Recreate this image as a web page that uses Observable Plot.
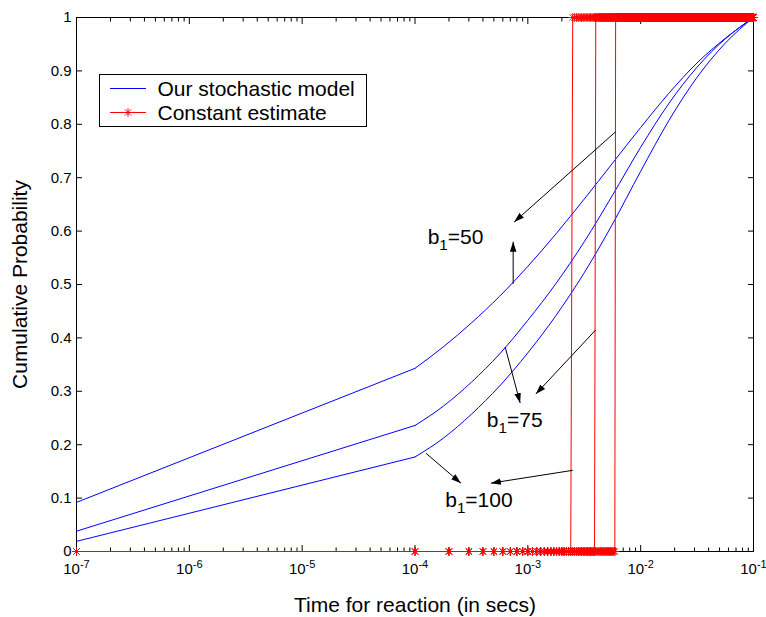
<!DOCTYPE html>
<html><head><meta charset="utf-8">
<script src="https://cdn.jsdelivr.net/npm/d3@7"></script>
<script src="https://cdn.jsdelivr.net/npm/@observablehq/plot@0.6"></script>
<style>
body{margin:0;background:#fff;}
#wrap{position:relative;width:766px;height:617px;font-family:"Liberation Sans",Arial,sans-serif;}
#legend{position:absolute;left:99px;top:74px;}
#wrap svg text.tick15{font-size:15px !important;font-family:"Liberation Sans",Arial,sans-serif !important;}
#wrap svg text.title21{font-size:21px !important;font-family:"Liberation Sans",Arial,sans-serif !important;}
#wrap svg text.tick15 tspan.sup{font-size:11px !important;}
</style></head><body><div id="wrap"></div>
<script>
// ---- data ----
const majorTicks = [1e-7, 1e-6, 1e-5, 1e-4, 1e-3, 1e-2, 1e-1];
const minorMultipliers = [2, 3, 4, 5, 6, 7, 8, 9];
const yTicks = [0, 0.1, 0.2, 0.3, 0.4, 0.5, 0.6, 0.7, 0.8, 0.9, 1];

// stochastic model (blue) curves
const curveTimes = [1e-7, 1e-4, 1.778e-4, 3.162e-4, 5.623e-4, 1e-3, 1.778e-3, 3.162e-3, 5.623e-3, 1e-2, 1.778e-2, 3.162e-2, 5.623e-2, 0.1];
const probB50  = [0.092, 0.343, 0.383, 0.428, 0.478, 0.534, 0.595, 0.660, 0.727, 0.794, 0.858, 0.915, 0.961, 1.0];
const probB75  = [0.038, 0.236, 0.272, 0.317, 0.370, 0.433, 0.502, 0.580, 0.667, 0.757, 0.839, 0.907, 0.960, 1.0];
const probB100 = [0.019, 0.177, 0.212, 0.257, 0.310, 0.372, 0.442, 0.522, 0.613, 0.712, 0.807, 0.888, 0.952, 1.0];

// constant estimate (red) step times, sampled on a 1e-4 s grid (first sample at 1e-7)
const stepTimes = [6e-3, 4e-3, 2.5e-3]; // b1 = 50, 75, 100
const sampleStep = 1e-4;
const sampleCount = 1000;
const firstSample = 1e-7;

// annotations
const labelText = ["b1=50", "b1=75", "b1=100"];
const labelX = [1.294e-4, 4.335e-4, 1.854e-4];
const labelY = [0.576, 0.233, 0.083];
const arrowX1 = [6e-3, 7.413e-4, 6.295e-4, 4e-3, 1.250e-4, 2.5e-3];
const arrowY1 = [0.786, 0.501, 0.383, 0.415, 0.184, 0.152];
const arrowX2 = [7.568e-4, 7.413e-4, 8.551e-4, 1.178e-3, 2.553e-4, 4.710e-4];
const arrowY2 = [0.617, 0.580, 0.278, 0.295, 0.128, 0.128];

// ---- build tables ----
const minorTicks = majorTicks.slice(0, -1).flatMap(t => minorMultipliers.map(m => t * m));
const curves = [probB50, probB75, probB100].map(p => curveTimes.map((t, i) => ({t, p: p[i], i})));
const steps = stepTimes.map(T => {
  const kT = Math.round(T / sampleStep);
  const pts = [{t: firstSample, p: 0}];
  for (let k = 1; k <= sampleCount; k++) pts.push({t: k * sampleStep, p: k >= kT ? 1 : 0});
  return pts;
});
const labels = labelText.map((s, i) => ({s, x: labelX[i], y: labelY[i]}));
const arrows = arrowX1.map((x1, i) => ({x1, y1: arrowY1[i], x2: arrowX2[i], y2: arrowY2[i]}));

// MATLAB-style '*' marker: plus + cross
const star8 = {
  draw(ctx, size) {
    const r = Math.sqrt(size / Math.PI), d = r * Math.SQRT1_2;
    ctx.moveTo(-r, 0); ctx.lineTo(r, 0);
    ctx.moveTo(0, -r); ctx.lineTo(0, r);
    ctx.moveTo(-d, -d); ctx.lineTo(d, d);
    ctx.moveTo(-d, d); ctx.lineTo(d, -d);
  }
};

const marks = [
  Plot.frame({stroke: "black"}),
  Plot.axisX({ticks: majorTicks, anchor: "bottom", tickSize: 0, tickPadding: 12, fontSize: 15,
    tickFormat: d => "10^" + Math.round(Math.log10(d)),
    label: "Time for reaction (in secs)", labelAnchor: "center", labelOffset: 60, labelArrow: "none"}),
  Plot.axisX({ticks: majorTicks, anchor: "bottom", tickSize: -6, tickFormat: () => "", label: null}),
  Plot.axisX({ticks: minorTicks, anchor: "bottom", tickSize: -3.5, tickFormat: () => "", label: null}),
  Plot.axisX({ticks: majorTicks, anchor: "top", tickSize: -6, tickFormat: () => "", label: null}),
  Plot.axisX({ticks: minorTicks, anchor: "top", tickSize: -3.5, tickFormat: () => "", label: null}),
  Plot.axisY({ticks: yTicks, anchor: "left", tickSize: 0, tickPadding: 5, fontSize: 15, tickFormat: d => String(d),
    label: "Cumulative Probability", labelAnchor: "center", labelOffset: 64, labelArrow: "none"}),
  Plot.axisY({ticks: yTicks, anchor: "left", tickSize: -6, tickFormat: () => "", label: null}),
  Plot.axisY({ticks: yTicks, anchor: "right", tickSize: -6, tickFormat: () => "", label: null}),
];
for (const c of curves) {
  marks.push(Plot.line(c.filter(d => d.i <= 1), {x: "t", y: "p", stroke: "#0000ff", strokeWidth: 1}));
  marks.push(Plot.line(c.filter(d => d.i >= 1), {x: "t", y: "p", stroke: "#0000ff", strokeWidth: 1, curve: "monotone-x"}));
}
for (const s of steps) {
  marks.push(Plot.line(s, {x: "t", y: "p", stroke: "#ff0000", strokeWidth: 1}));
}
for (const s of steps) {
  marks.push(Plot.dot(s, {x: "t", y: "p", symbol: star8, r: 4.3, fill: "none", stroke: "#ff0000", strokeWidth: 1}));
}
marks.push(Plot.link(arrows, {x1: "x1", y1: "y1", x2: "x2", y2: "y2", stroke: "black", strokeWidth: 1, markerEnd: "arrow"}));
marks.push(Plot.text(labels, {x: "x", y: "y", text: "s", textAnchor: "start", lineAnchor: "bottom", fontSize: 21, fill: "black"}));

const plot = Plot.plot({
  width: 766, height: 617,
  marginLeft: 76, marginRight: 13, marginTop: 17, marginBottom: 66,
  x: {type: "log", domain: [1e-7, 1e-1]},
  y: {domain: [0, 1]},
  style: {fontFamily: "'Liberation Sans', Arial, sans-serif", fontSize: "15px", background: "white", color: "black", overflow: "visible"},
  marks
});
const wrap = document.getElementById("wrap");
wrap.appendChild(plot);

const NS = "http://www.w3.org/2000/svg";
plot.querySelectorAll("text").forEach(t => {
  const s = t.textContent;
  if (/^10\^/.test(s)) {
    t.textContent = "10";
    t.classList.add("tick15");
    const ts = document.createElementNS(NS, "tspan");
    ts.setAttribute("dy", "-0.55em");
    ts.classList.add("sup");
    ts.textContent = s.slice(3);
    t.appendChild(ts);
  } else if (/^b1=/.test(s)) {
    t.textContent = "b";
    const sub = document.createElementNS(NS, "tspan");
    sub.setAttribute("dy", "0.4em");
    sub.setAttribute("font-size", "0.72em");
    sub.textContent = "1";
    const rest = document.createElementNS(NS, "tspan");
    rest.setAttribute("dy", "-0.29em");
    rest.textContent = s.slice(2);
    t.appendChild(sub); t.appendChild(rest);
  } else if (s === "Time for reaction (in secs)" || s === "Cumulative Probability") {
    t.classList.add("title21");
  } else if (/^[01](\.\d)?$/.test(s)) {
    t.classList.add("tick15");
  }
});
// filled arrow heads
plot.querySelectorAll("marker").forEach(m => {
  m.setAttribute("viewBox", "-10 -4 10 8");
  m.setAttribute("markerWidth", "10");
  m.setAttribute("markerHeight", "8");
  m.setAttribute("fill", "black");
  m.setAttribute("stroke", "none");
  const p = m.querySelector("path");
  p.setAttribute("d", "M-10,-3.3L0,0L-10,3.3Z");
});

// legend
const lg = d3.select(wrap).append("svg").attr("id", "legend").attr("width", 268).attr("height", 53);
lg.append("rect").attr("x", 0.5).attr("y", 0.5).attr("width", 267).attr("height", 52).attr("fill", "white").attr("stroke", "black");
const legendItems = [{name: "Our stochastic model", color: "#0000ff", star: false}, {name: "Constant estimate", color: "#ff0000", star: true}];
legendItems.forEach((it, i) => {
  const cy = 14.5 + i * 24;
  lg.append("line").attr("x1", 11).attr("x2", 47).attr("y1", cy).attr("y2", cy).attr("stroke", it.color);
  if (it.star) lg.append("path").attr("transform", `translate(29,${cy})`).attr("d", d3.symbol(star8, Math.PI * 4.3 * 4.3)()).attr("stroke", it.color).attr("fill", "none");
  lg.append("text").attr("x", 58.5).attr("y", cy + 7.5).attr("font-family", "'Liberation Sans', Arial, sans-serif").attr("font-size", 21).text(it.name);
});
</script></body></html>
